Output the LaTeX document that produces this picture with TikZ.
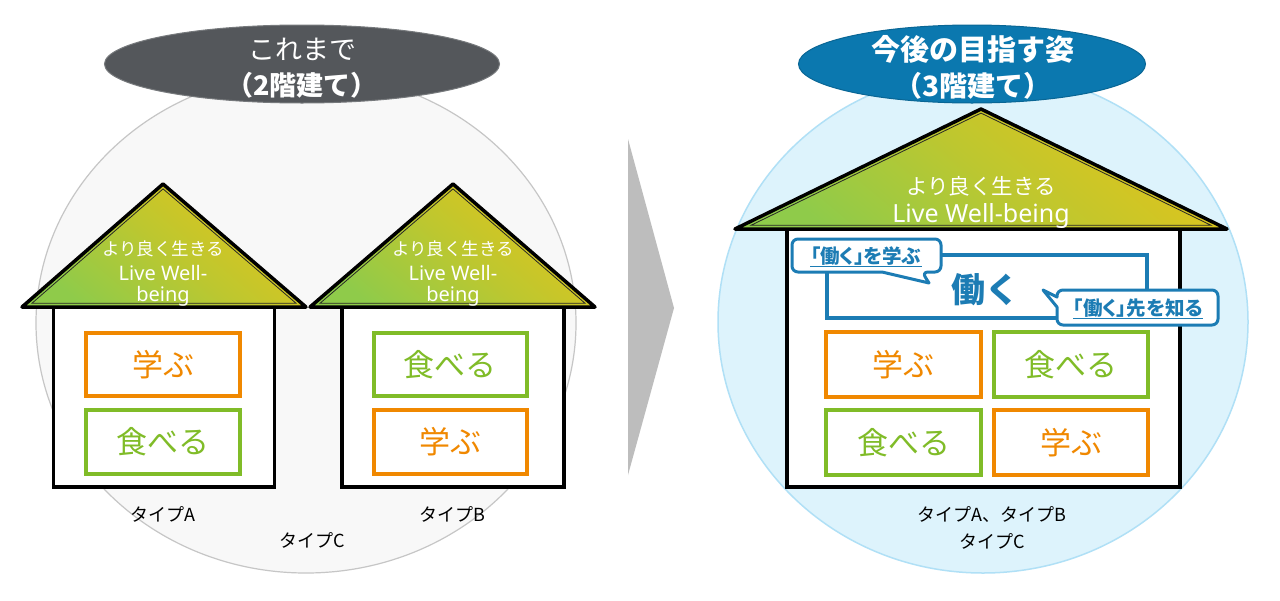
\documentclass[tikz,border=0pt]{standalone}
\usepackage{fontspec}
\setmainfont{Noto Sans CJK JP}
\newfontfamily\latf{Noto Sans}
\newfontfamily\paltf[RawFeature=+palt]{Noto Sans CJK JP}
\usetikzlibrary{shapes.geometric}
\definecolor{orangeC}{HTML}{F08800}
\definecolor{greenC}{HTML}{80BC28}
\definecolor{blueC}{HTML}{1C7CB4}
\definecolor{ellBlue}{HTML}{0B78AF}
\definecolor{ellGray}{HTML}{54575B}
\definecolor{roofGreen}{HTML}{8FCB4A}
\definecolor{roofYellow}{HTML}{E2C41A}
\definecolor{circGrayFill}{HTML}{F8F8F8}
\definecolor{circGrayLine}{HTML}{C6C6C6}
\definecolor{circBlueFill}{HTML}{DDF3FC}
\definecolor{circBlueLine}{HTML}{B0E0F6}
\definecolor{arrowGray}{HTML}{BDBDBD}
\begin{document}
\begin{tikzpicture}[x=1pt,y=-1pt,
  roofline/.style={draw=black, line width=3.5pt, line join=round},
  roofinner/.style={draw=black!85, line width=0.8pt},
  roofshade/.style={bottom color=roofGreen, top color=roofYellow, middle color=roofGreen!45!roofYellow, shading angle=-40},
  wall/.style={draw=black, line width=3.5pt, fill=white},
  obox/.style={draw=orangeC, line width=4pt, text=orangeC, font=\fontsize{31}{36}\selectfont, inner sep=0pt},
  gbox/.style={draw=greenC, line width=4pt, text=greenC, font=\fontsize{31}{36}\selectfont, inner sep=0pt},
  lbl/.style={font=\fontsize{18}{22}\selectfont, text=black, anchor=base, inner sep=0pt},
  rtxt/.style={text=white, anchor=base, inner sep=0pt},
  ttl/.style={text=white, anchor=base, inner sep=0pt},
  callout/.style={draw=blueC, line width=3pt, fill=white, line join=round},
  calltext/.style={text=blueC, font=\paltf\bfseries\fontsize{19.5}{22}\selectfont, anchor=base, inner sep=0pt},
  titleell/.style={ellipse, inner sep=0pt, line width=1pt}
]
\useasboundingbox (0,0) rectangle (1280,600);
\fill[white] (0,0) rectangle (1280,600);

% background circles
\draw[fill=circGrayFill, draw=circGrayLine, line width=1.2pt] (306,323) ellipse [x radius=270, y radius=250];
\draw[fill=circBlueFill, draw=circBlueLine, line width=1.5pt] (983,322) ellipse [x radius=265, y radius=251];

% title ellipses
\node[titleell, fill=ellGray, draw=ellGray!80!white, minimum width=395pt, minimum height=78pt] (e1) at (302,64) {};
\node[ttl, font=\fontsize{27}{30}\selectfont] (e1a) at (302,59) {これまで};
\node[ttl, font=\bfseries\fontsize{27}{30}\selectfont] (e1b) at (302,95) {（2階建て）};
\node[titleell, fill=ellBlue, draw=ellBlue!85!black, minimum width=347pt, minimum height=78pt] (e2) at (972,64) {};
\node[ttl, font=\bfseries\fontsize{29}{32}\selectfont] (e2a) at (973,60) {今後の目指す姿};
\node[ttl, font=\bfseries\fontsize{28}{32}\selectfont] (e2b) at (973,96) {（3階建て）};

% arrow
\fill[arrowGray] (628,139) -- (674,308) -- (628,475) -- cycle;

% ---------- house A ----------
\draw[wall] (53.5,307) -- (53.5,487) -- (274.5,487) -- (274.5,307);
\shade[roofshade] (163,184) -- (22,307) -- (306,307) -- cycle;
\draw[roofinner, scale around={0.93:(164,254)}] (163,184) -- (22,307) -- (306,307) -- cycle;
\draw[roofline] (163,184) -- (22,307) -- (306,307) -- cycle;
\node[rtxt, font=\fontsize{17.5}{20}\selectfont] (ra1) at (163,255) {より良く生きる};
\node[rtxt, font=\latf\fontsize{20}{22}\selectfont] (ra2) at (163,280) {Live Well-};
\node[rtxt, font=\latf\fontsize{20}{22}\selectfont] (ra3) at (163,301.5) {being};
\node[obox, minimum width=154pt, minimum height=63pt] (a1) at (163,364.5) {学ぶ};
\node[gbox, minimum width=154pt, minimum height=64pt] (a2) at (163,442) {食べる};
\node[lbl] (la) at (163,521) {タイプA};

% ---------- house B ----------
\draw[wall] (342,307) -- (342,487) -- (564,487) -- (564,307);
\shade[roofshade] (453,184) -- (310,307) -- (595,307) -- cycle;
\draw[roofinner, scale around={0.93:(453,254)}] (453,184) -- (310,307) -- (595,307) -- cycle;
\draw[roofline] (453,184) -- (310,307) -- (595,307) -- cycle;
\node[rtxt, font=\fontsize{17.5}{20}\selectfont] (rb1) at (453,255) {より良く生きる};
\node[rtxt, font=\latf\fontsize{20}{22}\selectfont] (rb2) at (453,280) {Live Well-};
\node[rtxt, font=\latf\fontsize{20}{22}\selectfont] (rb3) at (453,301.5) {being};
\node[gbox, minimum width=153pt, minimum height=63pt] (b1) at (450,364.5) {食べる};
\node[obox, minimum width=153pt, minimum height=64pt] (b2) at (450,442) {学ぶ};
\node[lbl] (lb) at (452,521) {タイプB};
\node[lbl] (lc) at (312,547) {タイプC};

% ---------- future house ----------
\draw[wall] (787,229) -- (787,487) -- (1180,487) -- (1180,229);
\shade[roofshade] (981,109) -- (735,229) -- (1227,229) -- cycle;
\draw[roofinner, scale around={0.935:(981,172)}] (981,109) -- (735,229) -- (1227,229) -- cycle;
\draw[roofline] (981,109) -- (735,229) -- (1227,229) -- cycle;
\node[rtxt, font=\fontsize{21.5}{24}\selectfont] (rc1) at (981,194) {より良く生きる};
\node[rtxt, font=\latf\fontsize{25}{28}\selectfont] (rc2) at (981,222) {Live Well-being};

\node[draw=blueC, line width=3.5pt, fill=white, minimum width=320pt, minimum height=63pt, inner sep=0pt] (wb) at (987,286.5) {};
\node[text=blueC, font=\bfseries\fontsize{34}{40}\selectfont, anchor=base, inner sep=0pt] (work) at (985,302) {働く};

% callout 1
\draw[callout] (792,239) [rounded corners=6pt] -- (941,239) -- (941,272) -- (922,272) [sharp corners] -- (929,283) -- (882,272) [rounded corners=6pt] -- (792,272) -- cycle;
\node[calltext] (c1) at (866,263) {「働く」を学ぶ};
\draw[blueC, line width=1.3pt] ([yshift=-3.5pt]c1.base west) -- ([yshift=-3.5pt]c1.base east);

% callout 2
\draw[callout] (1057,307) [rounded corners=6pt] -- (1057,325) -- (1218,325) -- (1218,290) -- (1057,290) [sharp corners] -- (1057,297) -- (1043,290) -- cycle;
\node[calltext] (c2) at (1138,315) {「働く」先を知る};
\draw[blueC, line width=1.3pt] ([yshift=-3.5pt]c2.base west) -- ([yshift=-3.5pt]c2.base east);

% grid boxes
\node[obox, minimum width=155pt, minimum height=65pt] (g1) at (903.5,364.5) {学ぶ};
\node[gbox, minimum width=154pt, minimum height=65pt] (g2) at (1071,364.5) {食べる};
\node[gbox, minimum width=155pt, minimum height=65pt] (g3) at (903.5,442.5) {食べる};
\node[obox, minimum width=154pt, minimum height=65pt] (g4) at (1071,442.5) {学ぶ};

\node[lbl] (ld) at (992,521) {タイプA、タイプB};
\node[lbl] (le) at (992,548) {タイプC};
\end{tikzpicture}
\end{document}
